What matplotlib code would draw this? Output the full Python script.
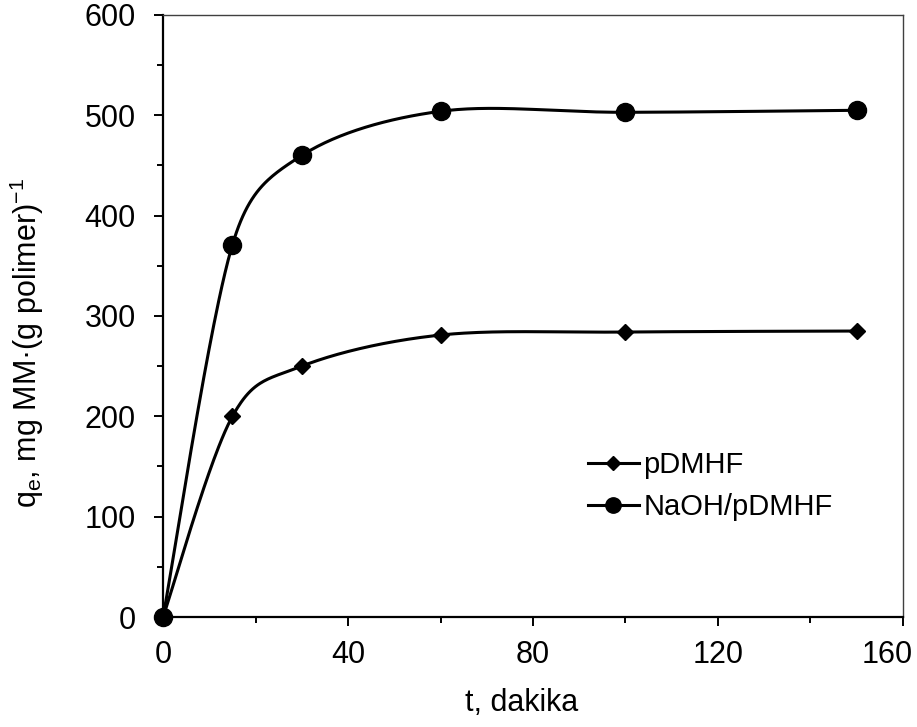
import matplotlib
matplotlib.use('Agg')
import matplotlib.pyplot as plt
from matplotlib.transforms import ScaledTranslation
import numpy as np

plt.rcParams['font.family'] = ['Liberation Sans', 'DejaVu Sans']

# time (min) and adsorbed amount values
t = [0, 15, 30, 60, 100, 150]
q_pdmhf = [0, 200, 250, 281, 284, 285]
q_naoh = [0, 371, 460, 504, 503, 505]
labels = ['pDMHF', 'NaOH/pDMHF']


# Excel style smoothed line: bezier segments computed in screen space,
# tangent 1/6 of neighbour chord, capped at half the segment length
def excel_smooth(ax, x, y, n=50):
    pts = ax.transData.transform(np.column_stack([x, y]).astype(float))
    out = []
    for i in range(len(pts) - 1):
        p1, p2 = pts[i], pts[i + 1]
        p0 = pts[i - 1] if i > 0 else p1
        p3 = pts[i + 2] if i + 2 < len(pts) else p2
        d12 = np.hypot(*(p2 - p1))
        d02 = np.hypot(*(p2 - p0))
        d13 = np.hypot(*(p3 - p1))
        f0 = d12 / d02 / 2 if d02 / 6 >= d12 / 2 else 1 / 6
        f1 = d12 / d13 / 2 if d13 / 6 >= d12 / 2 else 1 / 6
        c1 = p1 + (p2 - p0) * f0
        c2 = p2 - (p3 - p1) * f1
        s = np.linspace(0, 1, n)[:, None]
        seg = (1 - s) ** 3 * p1 + 3 * (1 - s) ** 2 * s * c1 + 3 * (1 - s) * s ** 2 * c2 + s ** 3 * p2
        out.append(seg)
    out = ax.transData.inverted().transform(np.vstack(out))
    return out[:, 0], out[:, 1]


fig = plt.figure(figsize=(9.17, 7.27), dpi=100)
ax = fig.add_axes([0.1778, 0.1513, 0.8069, 0.8281])
ax.set_xlim(0, 160)
ax.set_ylim(0, 600)

for q, m, ms, lab in [(q_pdmhf, 'D', 8.5, labels[0]), (q_naoh, 'o', 13, labels[1])]:
    sx, sy = excel_smooth(ax, t, q)
    ax.plot(sx, sy, color='black', lw=2.2, zorder=2)
    ax.plot(t, q, ls='none', marker=m, ms=ms, color='black', zorder=3, clip_on=False)
    ax.plot([], [], color='black', lw=2.2, marker=m, ms=ms * 0.85, label=lab)

ax.set_xticks(np.arange(0, 161, 40))
ax.set_xticks(np.arange(20, 161, 40), minor=True)
ax.set_yticks(np.arange(0, 601, 100))
ax.set_yticks(np.arange(50, 601, 100), minor=True)
ax.tick_params(which='major', direction='out', length=6.5, width=1.4, labelsize=22)
ax.tick_params(which='minor', direction='out', length=4, width=1.4)
ax.tick_params(axis='x', which='major', pad=10)
ax.tick_params(axis='y', which='major', pad=13)

# last x label is pulled left so it stays inside the picture
lbl = ax.xaxis.get_major_ticks()[-1].label1
lbl.set_transform(lbl.get_transform() + ScaledTranslation(-0.16, 0, fig.dpi_scale_trans))

for s in ['left', 'bottom']:
    ax.spines[s].set_linewidth(1.6)
for s in ['top', 'right']:
    ax.spines[s].set_linewidth(1.0)
    ax.spines[s].set_color('#404040')

ax.set_xlabel('t, dakika', fontsize=22)
ax.set_ylabel('q$_\\mathregular{e}$, mg MM·(g polimer)$^\\mathregular{−1}$', fontsize=22)
ax.xaxis.set_label_coords(0.485, -0.118)
ax.yaxis.set_label_coords(-0.158, 0.455)

ax.legend(loc='upper left', bbox_to_anchor=(0.574, 0.276), frameon=False, fontsize=21,
          borderaxespad=0, borderpad=0, handlelength=1.75, handletextpad=0.15,
          labelspacing=0.5)

fig.savefig('out.png', dpi=100)
